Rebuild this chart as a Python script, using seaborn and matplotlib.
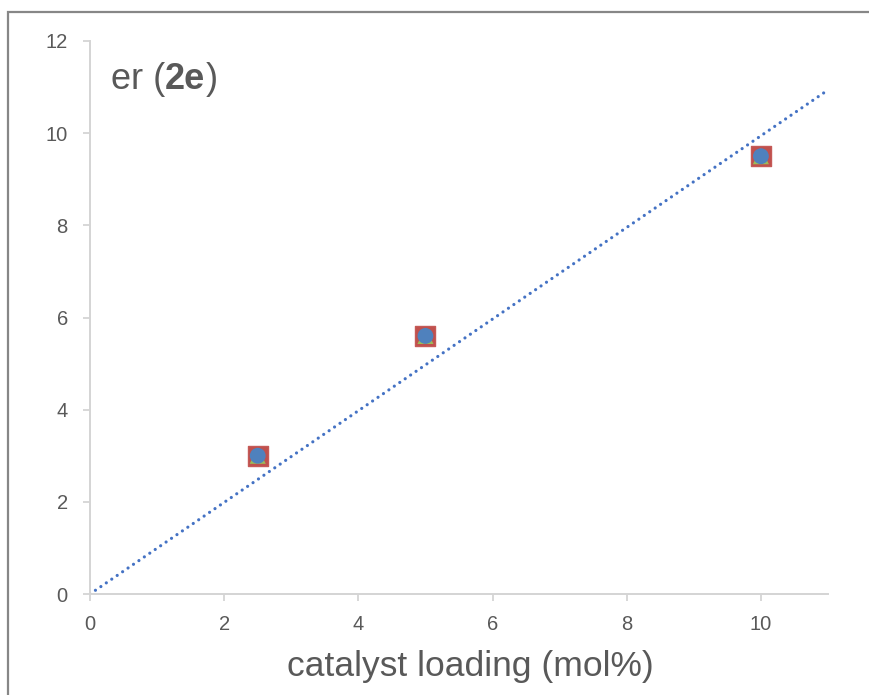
import numpy as np
import pandas as pd
import matplotlib
matplotlib.use("Agg")
import matplotlib.pyplot as plt
from matplotlib.offsetbox import TextArea, HPacker, AnchoredOffsetbox
from matplotlib.patches import Rectangle
import seaborn as sns

# catalyst loading (mol%) and measured er
loading = [2.5, 5.0, 10.0]
er_values = [3.0, 5.6, 9.5]
x_ticks = [0, 2, 4, 6, 8, 10]
y_ticks = [0, 2, 4, 6, 8, 10, 12]

sns.set_theme(style="white")
plt.rcParams["font.family"] = ["Liberation Sans", "DejaVu Sans"]

df = pd.DataFrame({"loading": loading, "er": er_values})

# linear trendline forced through the origin
x = np.asarray(loading)
y = np.asarray(er_values)
slope = float(np.sum(x * y) / np.sum(x * x))
trend = pd.DataFrame({"loading": [0.0, 11.0]})
trend["er"] = slope * trend["loading"]

fig = plt.figure(figsize=(8.69, 6.95), dpi=100)
ax = fig.add_axes([90 / 869, 1 - 594 / 695, (828 - 90) / 869, (594 - 41) / 695])

text_gray = "#595959"
axis_gray = "#D4D4D4"

sns.lineplot(data=trend, x="loading", y="er", ax=ax, color="#4472C4",
             lw=2.3, linestyle=(0, (0.01, 2.05)), dash_capstyle="round",
             zorder=2)
sns.scatterplot(data=df, x="loading", y="er", ax=ax, marker="s", s=200,
                color="#C0504D", edgecolor="#C55A57", linewidth=1.0, zorder=3)
sns.scatterplot(data=df, x="loading", y="er", ax=ax, marker="^", s=135,
                color="#9BBB59", edgecolor="none", zorder=4)
sns.scatterplot(data=df, x="loading", y="er", ax=ax, marker="o", s=130,
                color="#4F81BD", edgecolor="none", zorder=5)

ax.set_xlim(0, 11)
ax.set_ylim(0, 12)
ax.set_xticks(x_ticks)
ax.set_yticks(y_ticks)
ax.set_xticklabels([str(t) for t in x_ticks])
ax.set_yticklabels([str(t) for t in y_ticks])

for side in ["top", "right"]:
    ax.spines[side].set_visible(False)
for side in ["left", "bottom"]:
    ax.spines[side].set_color(axis_gray)
    ax.spines[side].set_linewidth(1.4)

ax.tick_params(axis="both", which="major", direction="out", length=5,
               width=1.3, color=axis_gray, labelcolor=text_gray,
               labelsize=14.5, bottom=True, left=True)
ax.tick_params(axis="y", pad=11)
ax.tick_params(axis="x", pad=10)

ax.set_xlabel("catalyst loading (mol%)", fontsize=25.5, color=text_gray)
ax.xaxis.set_label_coords((470 - 90) / 738, (594 - 650) / 553)
ax.set_ylabel("")

# panel label with the compound number in bold
parts = [TextArea("er (", textprops=dict(fontsize=26, color=text_gray)),
         TextArea("2e", textprops=dict(fontsize=26, color=text_gray,
                                       fontweight="bold")),
         TextArea(")", textprops=dict(fontsize=26, color=text_gray))]
box = HPacker(children=parts, align="baseline", pad=0, sep=0)
anchored = AnchoredOffsetbox(loc="upper left", child=box, pad=0,
                             frameon=False,
                             bbox_to_anchor=(111 / 869, 1 - 62 / 695),
                             bbox_transform=fig.transFigure, borderpad=0)
ax.add_artist(anchored)

# chart border
fig.patches.append(Rectangle((8 / 869, -0.1), 1.2, 1.1 - 12 / 695,
                             transform=fig.transFigure, fill=False,
                             edgecolor="#878787", linewidth=1.6))

fig.savefig("out.png", dpi=100)
